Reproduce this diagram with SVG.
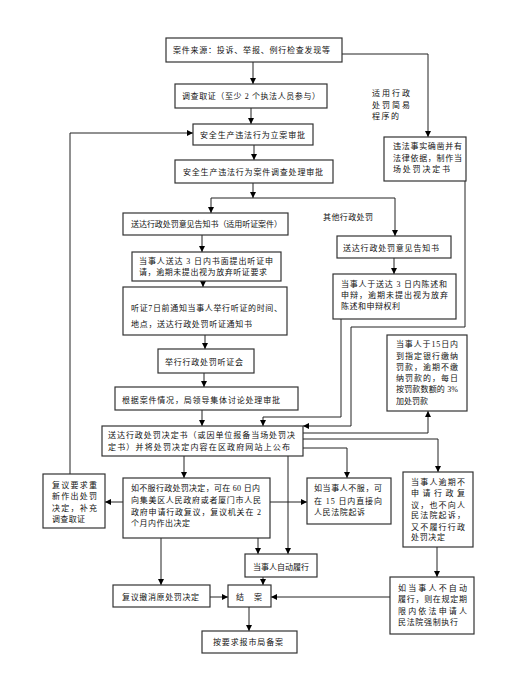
<svg xmlns="http://www.w3.org/2000/svg" width="530" height="678" viewBox="0 0 530 678">
<defs>
<marker id="ah" viewBox="0 0 10 10" refX="10" refY="5" markerWidth="6" markerHeight="6" markerUnits="userSpaceOnUse" orient="auto">
<path d="M0,0 L10,5 L0,10 z" fill="#000"/>
</marker>
<style>
.b{fill:#fff;stroke:#333;stroke-width:1.2}
.c{fill:none;stroke:#222;stroke-width:1;marker-end:url(#ah)}
.l{fill:none;stroke:#222;stroke-width:1}
text{font-family:"Liberation Serif","Noto Sans CJK SC",serif;font-size:8px;fill:#111;lengthAdjust:spacing}
</style>
</defs>
<rect width="530" height="678" fill="#fff"/>
<g id="connectors">
<path class="c" d="M342,54 H428 V137"/>
<path class="c" d="M253,62 V84"/>
<path class="c" d="M251,108 V124"/>
<path class="c" d="M70,474 V133 H193"/>
<path class="c" d="M254,145 V160"/>
<path class="c" d="M253,183 V198"/>
<path class="l" d="M211,198 H395"/>
<path class="c" d="M211,198 V213"/>
<path class="c" d="M395,198 V236"/>
<path class="c" d="M202,235 V252"/>
<path class="c" d="M203,281 V287"/>
<path class="c" d="M205,335 V349"/>
<path class="c" d="M204,373 V387"/>
<path class="c" d="M202,410 V426"/>
<path class="c" d="M394,258 V274"/>
<path class="c" d="M341,319 V417 H263 V426"/>
<path class="c" d="M465,181 V327 H351 V426 H303"/>
<path class="c" d="M303,433 H428 V411"/>
<path class="c" d="M303,439 H438 V472"/>
<path class="c" d="M303,448 H347 V478"/>
<path class="c" d="M288,456 V554"/>
<path class="c" d="M184,456 V478"/>
<path class="c" d="M123,502 H105"/>
<path class="c" d="M270,502 H307"/>
<path class="c" d="M258,538 V554"/>
<path class="c" d="M161,538 V585"/>
<path class="c" d="M263,577 V585"/>
<path class="c" d="M210,597 H228"/>
<path class="c" d="M390,597 H271"/>
<path class="c" d="M437,547 V577"/>
<path class="c" d="M249,607 V631"/>
</g>
<g id="labels">
<text x="372" y="96" textLength="38">适用行政</text>
<text x="372" y="108" textLength="38">处罚简易</text>
<text x="372" y="119" textLength="27">程序的</text>
<text x="323" y="220" textLength="50">其他行政处罚</text>
</g>
<g id="n1"><rect class="b" x="166" y="38" width="176" height="24"/><text x="173" y="53" textLength="157">案件来源：投诉、举报、例行检查发现等</text></g>
<g id="n2"><rect class="b" x="175" y="84" width="152" height="24"/><text x="182" y="99" textLength="138">调查取证（至少 2 个执法人员参与）</text></g>
<g id="n3"><rect class="b" x="193" y="124" width="120" height="21"/><text x="200" y="138" textLength="105">安全生产违法行为立案审批</text></g>
<g id="n4"><rect class="b" x="175" y="160" width="158" height="23"/><text x="183" y="175" textLength="140">安全生产违法行为案件调查处理审批</text></g>
<g id="n5"><rect class="b" x="123" y="213" width="165" height="22"/><text x="131" y="227" textLength="151">送达行政处罚意见告知书（适用听证案件）</text></g>
<g id="n6"><rect class="b" x="132" y="252" width="149" height="29"/><text x="139" y="264" textLength="134">当事人送达 3 日内书面提出听证申</text><text x="139" y="275" textLength="128">请，逾期未提出视为放弃听证要求</text></g>
<g id="n7"><rect class="b" x="123" y="287" width="164" height="48"/><text x="131" y="311" textLength="151">听证7日前通知当事人举行听证的时间、</text><text x="131" y="327" textLength="121">地点，送达行政处罚听证通知书</text></g>
<g id="n8"><rect class="b" x="158" y="349" width="96" height="24"/><text x="165" y="365" textLength="78">举行行政处罚听证会</text></g>
<g id="n9"><rect class="b" x="115" y="387" width="183" height="23"/><text x="122" y="403" textLength="158">根据案件情况，局领导集体讨论处理审批</text></g>
<g id="n10"><rect class="b" x="102" y="426" width="201" height="30"/><text x="108" y="438" textLength="187">送达行政处罚决定书（或因单位报备当场处罚决</text><text x="108" y="450" textLength="182">定书）并将处罚决定内容在区政府网站上公布</text></g>
<g id="simple"><rect class="b" x="384" y="137" width="82" height="44"/><text x="393" y="149" textLength="69">违法事实确凿并有</text><text x="393" y="161" textLength="69">法律依据，制作当</text><text x="393" y="172" textLength="57">场处罚决定书</text></g>
<g id="r1"><rect class="b" x="337" y="236" width="114" height="22"/><text x="343" y="251" textLength="96">送达行政处罚意见告知书</text></g>
<g id="r2"><rect class="b" x="333" y="274" width="123" height="45"/><text x="341" y="287" textLength="106">当事人于送达 3 日内陈述和</text><text x="341" y="298" textLength="107">申辩，逾期未提出视为放弃</text><text x="341" y="309" textLength="59">陈述和申辩权利</text></g>
<g id="r3"><rect class="b" x="387" y="335" width="80" height="76"/><text x="396" y="347" textLength="62">当事人于15日内</text><text x="396" y="359" textLength="62">到指定银行缴纳</text><text x="396" y="370" textLength="62">罚款，逾期不缴</text><text x="396" y="381" textLength="62">纳罚款的，每日</text><text x="396" y="392" textLength="62">按罚款数额的 3%</text><text x="396" y="404" textLength="32">加处罚款</text></g>
<g id="n11"><rect class="b" x="123" y="478" width="147" height="60"/><text x="131" y="491" textLength="129">如不服行政处罚决定，可在 60 日内</text><text x="131" y="503" textLength="130">向集美区人民政府或者厦门市人民</text><text x="131" y="515" textLength="130">政府申请行政复议，复议机关在 2</text><text x="131" y="526" textLength="59">个月内作出决定</text></g>
<g id="fy"><rect class="b" x="43" y="474" width="62" height="54"/><text x="52" y="488" textLength="45">复议要求重</text><text x="52" y="499" textLength="45">新作出处罚</text><text x="52" y="511" textLength="45">决定，补充</text><text x="52" y="522" textLength="33">调查取证</text></g>
<g id="r5"><rect class="b" x="307" y="478" width="84" height="46"/><text x="314" y="491" textLength="68">如当事人不服，可</text><text x="314" y="504" textLength="68">在 15 日内直接向</text><text x="314" y="515" textLength="51">人民法院起诉</text></g>
<g id="r4"><rect class="b" x="403" y="472" width="70" height="75"/><text x="411" y="485" textLength="54">当事人逾期不</text><text x="411" y="496" textLength="54">申请行政复</text><text x="411" y="508" textLength="54">议，也不向人</text><text x="411" y="518" textLength="54">民法院起诉，</text><text x="411" y="530" textLength="54">又不履行行政</text><text x="411" y="540" textLength="34">处罚决定</text></g>
<g id="zd"><rect class="b" x="245" y="554" width="72" height="23"/><text x="253" y="570" textLength="56">当事人自动履行</text></g>
<g id="cx"><rect class="b" x="113" y="585" width="97" height="22"/><text x="122" y="600" textLength="77">复议撤消原处罚决定</text></g>
<g id="ja"><rect class="b" x="228" y="585" width="43" height="22"/><text x="236" y="600" textLength="26">结 案</text></g>
<g id="r6"><rect class="b" x="390" y="577" width="84" height="57"/><text x="398" y="591" textLength="69">如当事人不自动</text><text x="398" y="602" textLength="69">履行，则在规定期</text><text x="398" y="614" textLength="69">限内依法申请人</text><text x="398" y="625" textLength="60">民法院强制执行</text></g>
<g id="ba"><rect class="b" x="202" y="631" width="95" height="22"/><text x="213" y="645" textLength="70">按要求报市局备案</text></g>
</svg>
